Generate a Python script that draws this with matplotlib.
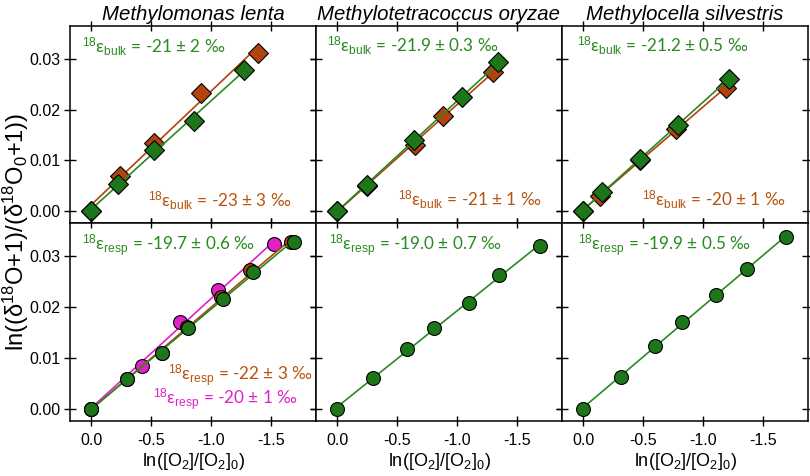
import numpy as np
import matplotlib
matplotlib.use("Agg")
import matplotlib.pyplot as plt

plt.rcParams['font.family'] = ['Liberation Sans', 'DejaVu Sans']
plt.rcParams['mathtext.fontset'] = 'custom'
plt.rcParams['mathtext.rm'] = 'Liberation Sans'
plt.rcParams['mathtext.it'] = 'Liberation Sans:italic'

GREEN = '#1e761a'
GREEN_T = '#2a8a22'
BROWN = '#b2420e'
BROWN_T = '#b8520f'
MAGENTA = '#e020c8'

species = ['Methylomonas lenta', 'Methylotetracoccus oryzae', 'Methylocella silvestris']

# --- bulk (top row) : diamonds ---
bulk_green_x = [
    [0.0, -0.224, -0.52, -0.852, -1.268],
    [0.0, -0.245, -0.642, -1.036, -1.342],
    [0.0, -0.157, -0.47, -0.787, -1.21],
]
bulk_green_y = [
    [0.0, 0.00533, 0.0120, 0.0178, 0.0278],
    [0.0, 0.00513, 0.0140, 0.0224, 0.0293],
    [0.0, 0.00369, 0.01026, 0.01696, 0.02598],
]
bulk_brown_x = [
    [0.0, -0.238, -0.52, -0.916, -1.387],
    [0.0, -0.245, -0.647, -0.878, -1.295],
    [0.0, -0.138, -0.47, -0.774, -1.188],
]
bulk_brown_y = [
    [0.0, 0.00696, 0.01335, 0.0232, 0.0312],
    [0.0, 0.0050, 0.0130, 0.01874, 0.02736],
    [0.0, 0.00302, 0.01006, 0.01611, 0.0242],
]

# --- respiration (bottom row) : circles ---
resp_green_x = [
    [0.0, -0.299, -0.590, -0.806, -1.093, -1.345, -1.683],
    [0.0, -0.295, -0.583, -0.806, -1.098, -1.348, -1.683],
    [0.0, -0.312, -0.600, -0.820, -1.105, -1.359, -1.690],
]
resp_green_y = [
    [0.0, 0.00592, 0.01099, 0.01586, 0.02158, 0.0269, 0.03274],
    [0.0, 0.0060, 0.01171, 0.01586, 0.02079, 0.02631, 0.0319],
    [0.0, 0.00631, 0.0123, 0.01704, 0.02243, 0.02742, 0.03373],
]
resp_brown_x = [0.0, -0.299, -0.590, -0.797, -1.080, -1.323, -1.664]
resp_brown_y = [0.0, 0.00592, 0.01099, 0.0160, 0.0219, 0.0273, 0.0327]
resp_magenta_x = [0.0, -0.424, -0.736, -1.052, -1.522]
resp_magenta_y = [0.0, 0.00842, 0.0171, 0.02335, 0.0323]

bulk_green_lbl = ['-21 ± 2 ‰', '-21.9 ± 0.3 ‰', '-21.2 ± 0.5 ‰']
bulk_brown_lbl = ['-23 ± 3 ‰', '-21 ± 1 ‰', '-20 ± 1 ‰']
resp_green_lbl = ['-19.7 ± 0.6 ‰', '-19.0 ± 0.7 ‰', '-19.9 ± 0.5 ‰']
resp_brown_lbl = '-22 ± 3 ‰'
resp_magenta_lbl = '-20 ± 1 ‰'

xticks = [0.0, -0.5, -1.0, -1.5]
xticklabels = ['0.0', '-0.5', '-1.0', '-1.5']
yticks = [0.00, 0.01, 0.02, 0.03]
yticklabels = ['0.00', '0.01', '0.02', '0.03']

W, H = 810, 476
fig = plt.figure(figsize=(W / 100, H / 100), dpi=100)

left, right = 70, 808
top, mid, bottom = 26, 223, 421
pw = (right - left) / 3

def fit_line(ax, x, y, color, z):
    x = np.asarray(x); y = np.asarray(y)
    p = np.polyfit(x, y, 1)
    xs = np.array([x.max(), x.min()])
    ax.plot(xs, np.polyval(p, xs), color=color, lw=1.2, zorder=z)

def pts(ax, x, y, color, marker, ms, z):
    ax.plot(x, y, linestyle='none', marker=marker, ms=ms, mfc=color,
            mec='black', mew=0.8, zorder=z)

def eps_text(xpx, ypx, sub, val, color):
    s = r'$^{18}$ε$_{\mathrm{' + sub + '}}$ = ' + val
    fig.text(xpx / W, 1 - ypx / H, s, color=color, fontsize=12.3,
             family=['Lato', 'DejaVu Sans'], va='baseline', ha='left',
             zorder=10)

axes = []
for r in range(2):
    for c in range(3):
        x0 = left + c * pw
        if r == 0:
            y0, y1 = top, mid
        else:
            y0, y1 = mid, bottom
        ax = fig.add_axes([x0 / W, 1 - y1 / H, pw / W, (y1 - y0) / H])
        ax.set_xlim(0.175, -1.87)
        ax.set_ylim(-0.0024, 0.0365)
        ax.set_xticks(xticks)
        ax.set_yticks(yticks)
        ax.tick_params(axis='x', direction='inout', length=7, width=1, top=True,
                       labelsize=11.5, pad=5)
        ax.tick_params(axis='y', direction='inout', length=8, width=1, right=True,
                       labelsize=11.5, pad=3)
        if c == 0:
            ax.set_yticklabels(yticklabels)
        else:
            ax.set_yticklabels([])
        if r == 1:
            ax.set_xticklabels(xticklabels)
            ax.set_xlabel(r'ln([O$_2$]/[O$_2$]$_0$)', fontsize=13, labelpad=2)
        else:
            ax.set_xticklabels([])
            ax.set_title(species[c], fontsize=14.7, style='italic', pad=4)
        for s in ax.spines.values():
            s.set_linewidth(1.1)
        axes.append(ax)

for c in range(3):
    ax = axes[c]
    fit_line(ax, bulk_brown_x[c], bulk_brown_y[c], BROWN, 2)
    pts(ax, bulk_brown_x[c], bulk_brown_y[c], BROWN, 'D', 10.5, 3)
    fit_line(ax, bulk_green_x[c], bulk_green_y[c], GREEN_T, 4)
    pts(ax, bulk_green_x[c], bulk_green_y[c], GREEN, 'D', 10.5, 5)

ax = axes[3]
fit_line(ax, resp_magenta_x, resp_magenta_y, MAGENTA, 2)
pts(ax, resp_magenta_x, resp_magenta_y, MAGENTA, 'o', 10, 3)
fit_line(ax, resp_brown_x, resp_brown_y, BROWN, 4)
pts(ax, resp_brown_x, resp_brown_y, BROWN, 'o', 10, 5)
fit_line(ax, resp_green_x[0], resp_green_y[0], GREEN_T, 6)
pts(ax, resp_green_x[0], resp_green_y[0], GREEN, 'o', 10, 7)
for c in (1, 2):
    ax = axes[3 + c]
    fit_line(ax, resp_green_x[c], resp_green_y[c], GREEN_T, 2)
    pts(ax, resp_green_x[c], resp_green_y[c], GREEN, 'o', 10, 3)

# annotations
eps_text(82, 53, 'bulk', bulk_green_lbl[0], GREEN_T)
eps_text(148, 207, 'bulk', bulk_brown_lbl[0], BROWN_T)
eps_text(327, 52, 'bulk', bulk_green_lbl[1], GREEN_T)
eps_text(398, 206, 'bulk', bulk_brown_lbl[1], BROWN_T)
eps_text(577, 52, 'bulk', bulk_green_lbl[2], GREEN_T)
eps_text(642, 206, 'bulk', bulk_brown_lbl[2], BROWN_T)
eps_text(82, 251, 'resp', resp_green_lbl[0], GREEN_T)
eps_text(168, 381, 'resp', resp_brown_lbl, BROWN_T)
eps_text(153, 405, 'resp', resp_magenta_lbl, MAGENTA)
eps_text(329, 251, 'resp', resp_green_lbl[1], GREEN_T)
eps_text(578, 251, 'resp', resp_green_lbl[2], GREEN_T)

fig.text(16 / W, 1 - 232 / H, r'ln((δ$^{18}$O+1)/(δ$^{18}$O$_0$+1))',
         rotation=90, fontsize=17, va='center', ha='center')

fig.savefig('out.png', dpi=100)
